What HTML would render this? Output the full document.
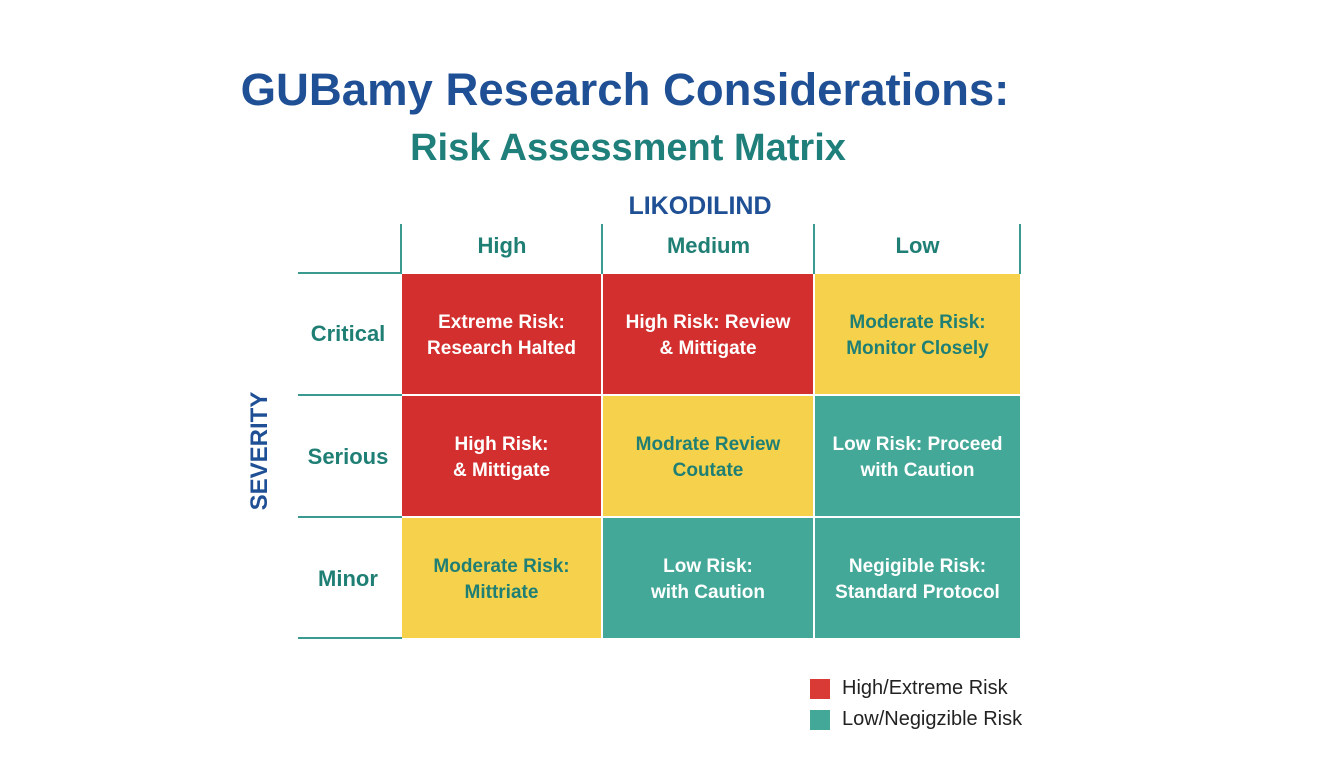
<!DOCTYPE html>
<html><head><style>
body{margin:0;width:1344px;height:768px;background:#fff;position:relative;font-family:"Liberation Sans",sans-serif;overflow:hidden}
.a{position:absolute}
.t{position:absolute;text-align:center;font-weight:bold;white-space:nowrap}
.c{position:absolute;display:flex;align-items:center;justify-content:center;text-align:center;font-weight:bold;font-size:19px;line-height:26px;box-sizing:border-box;padding-top:4px}
.r{background:#d32f2f;color:#fff}.y{background:#f6d24c;color:#1f7f74}.g{background:#44a898;color:#fff}
.ln{position:absolute;background:#3a9a90}
.h{color:#1f7f74;font-size:22px;font-weight:bold;position:absolute;text-align:center}
</style></head><body>
<div class="t" style="left:0;width:1250px;top:64px;font-size:45.5px;color:#1f4f94">GUBamy Research Considerations:</div>
<div class="t" style="left:0;width:1256px;top:127px;font-size:38px;color:#1f7f7a">Risk Assessment Matrix</div>
<div class="t" style="left:500px;width:400px;top:192px;font-size:25px;color:#1f4f94">LIKODILIND</div>
<div class="t" style="left:160px;width:200px;top:437px;font-size:24px;color:#1f4f94;transform:rotate(-90deg)">SEVERITY</div>

<div class="ln" style="left:400px;top:224px;width:2px;height:50px"></div>
<div class="ln" style="left:601px;top:224px;width:2px;height:50px"></div>
<div class="ln" style="left:813px;top:224px;width:2px;height:50px"></div>
<div class="ln" style="left:1019px;top:224px;width:2px;height:50px"></div>
<div class="ln" style="left:298px;top:272px;width:104px;height:2px"></div>
<div class="ln" style="left:298px;top:394px;width:104px;height:2px"></div>
<div class="ln" style="left:298px;top:516px;width:104px;height:2px"></div>
<div class="ln" style="left:298px;top:637px;width:104px;height:2px"></div>

<div class="h" style="left:402px;width:200px;top:233px">High</div>
<div class="h" style="left:603px;width:211px;top:233px">Medium</div>
<div class="h" style="left:815px;width:205px;top:233px">Low</div>
<div class="h" style="left:298px;width:100px;top:321px">Critical</div>
<div class="h" style="left:298px;width:100px;top:444px">Serious</div>
<div class="h" style="left:298px;width:100px;top:566px">Minor</div>

<div class="c r" style="left:402px;top:274px;width:199px;height:120px">Extreme Risk:<br>Research Halted</div>
<div class="c r" style="left:603px;top:274px;width:210px;height:120px">High Risk: Review<br>&amp; Mittigate</div>
<div class="c y" style="left:815px;top:274px;width:205px;height:120px">Moderate Risk:<br>Monitor Closely</div>
<div class="c r" style="left:402px;top:396px;width:199px;height:120px">High Risk:<br>&amp; Mittigate</div>
<div class="c y" style="left:603px;top:396px;width:210px;height:120px">Modrate Review<br>Coutate</div>
<div class="c g" style="left:815px;top:396px;width:205px;height:120px">Low Risk: Proceed<br>with Caution</div>
<div class="c y" style="left:402px;top:518px;width:199px;height:120px">Moderate Risk:<br>Mittriate</div>
<div class="c g" style="left:603px;top:518px;width:210px;height:120px">Low Risk:<br>with Caution</div>
<div class="c g" style="left:815px;top:518px;width:205px;height:120px">Negigible Risk:<br>Standard Protocol</div>

<div class="a" style="left:810px;top:679px;width:20px;height:20px;background:#d93a35"></div>
<div class="a" style="left:810px;top:710px;width:20px;height:20px;background:#44a898"></div>
<div class="a" style="left:842px;top:677px;font-size:20px;color:#222">High/Extreme Risk</div>
<div class="a" style="left:842px;top:708px;font-size:20px;color:#222">Low/Negigzible Risk</div>
</body></html>
